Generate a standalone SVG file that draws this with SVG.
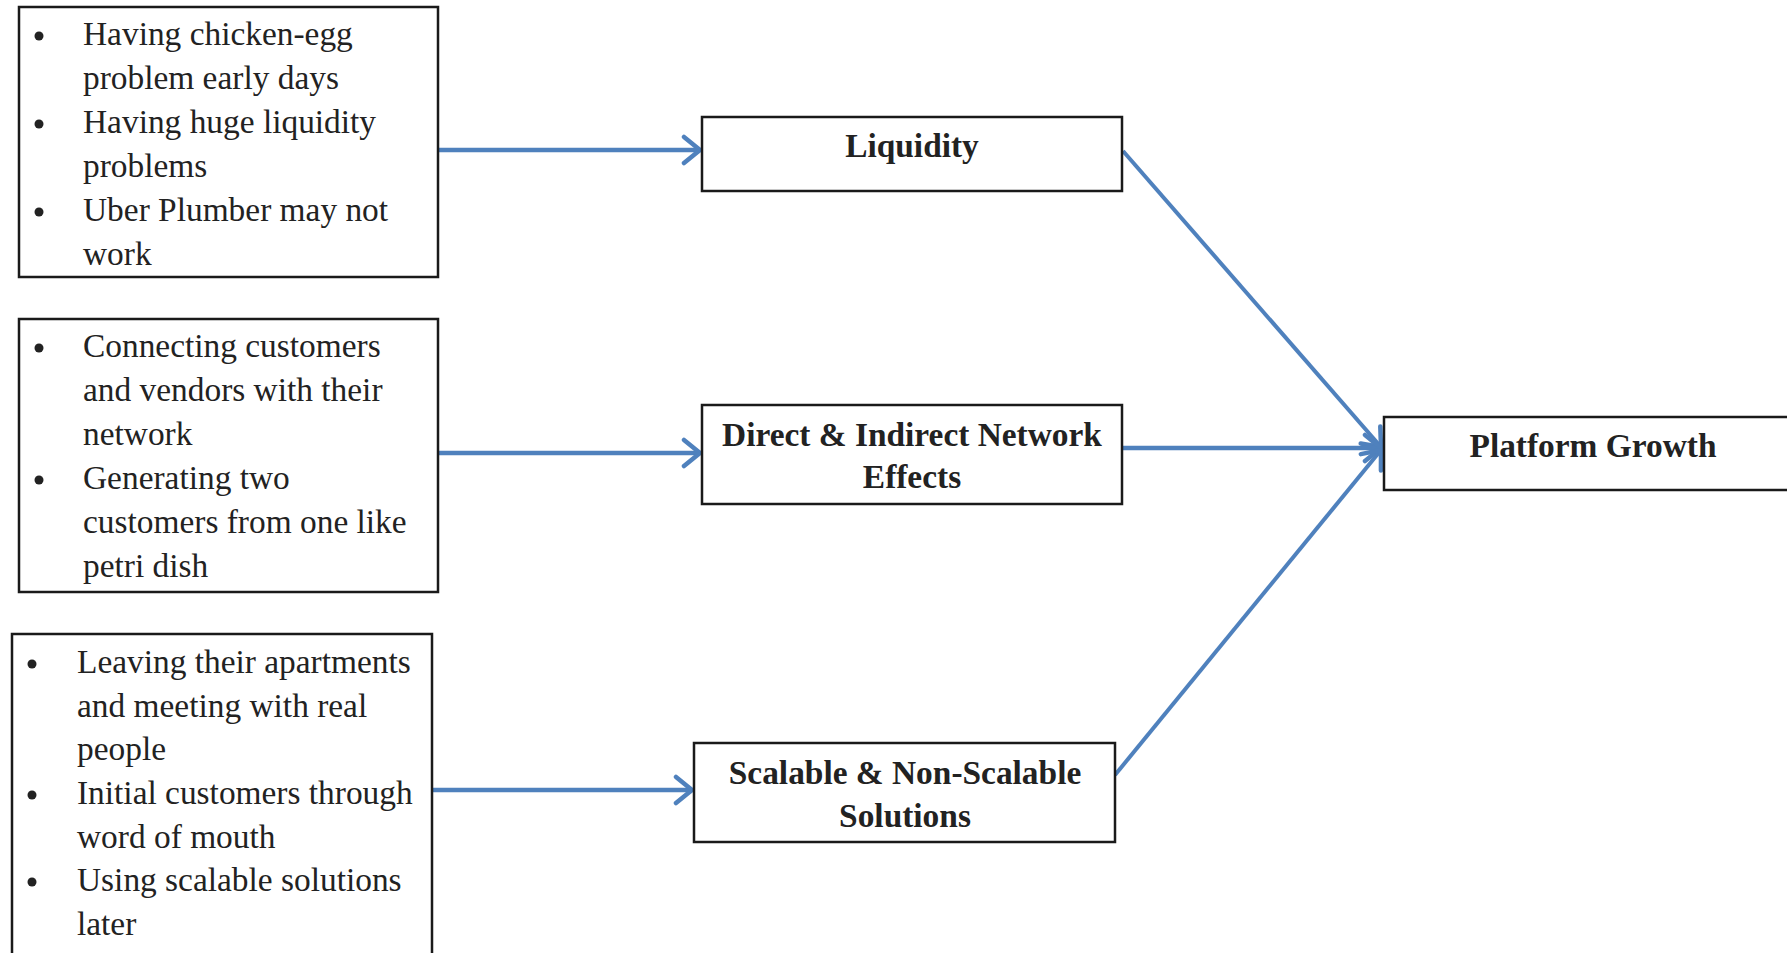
<svg xmlns="http://www.w3.org/2000/svg" width="1787" height="953" viewBox="0 0 1787 953">
  <style>
    .box { fill: #ffffff; stroke: #1a1a1a; stroke-width: 2.5; }
    .txt { font-family: "Liberation Serif", "Times New Roman", serif; font-size: 33.4px; fill: #222222; }
    .bold { font-family: "Liberation Serif", "Times New Roman", serif; font-size: 33.4px; font-weight: bold; fill: #222222; text-anchor: middle; }
    .bullet { fill: #222222; }
    .conn { stroke: #4F81BD; stroke-width: 4.5; fill: none; marker-end: url(#arrow); }
    .diag { stroke-width: 4; }
  </style>
  <defs>
    <marker id="arrow" markerUnits="userSpaceOnUse" viewBox="-22 -16 26 32" refX="0" refY="0" markerWidth="26" markerHeight="32" orient="auto">
      <path d="M -16,-13 L 0,0 L -16,13" fill="none" stroke="#4F81BD" stroke-width="4.5" stroke-linecap="round" stroke-linejoin="round"/>
    </marker>
  </defs>
  <rect width="1787" height="953" fill="#ffffff"/>

  <g id="connectors">
    <line class="conn" x1="439" y1="150" x2="700" y2="150"/>
    <line class="conn" x1="439" y1="453" x2="700" y2="453"/>
    <line class="conn" x1="432" y1="790" x2="692" y2="790"/>
    <line class="conn diag" x1="1123" y1="151" x2="1381" y2="447"/>
    <line class="conn" x1="1123" y1="448" x2="1381" y2="448"/>
    <line class="conn diag" x1="1115" y1="775" x2="1381" y2="450"/>
  </g>

  <g id="box-liquidity-causes">
    <rect class="box" x="19" y="7" width="419" height="270"/>
    <circle class="bullet" cx="39" cy="36" r="4.5"/>
    <circle class="bullet" cx="39" cy="124" r="4.5"/>
    <circle class="bullet" cx="39" cy="212" r="4.5"/>
    <text class="txt" x="83" y="45">Having chicken-egg</text>
    <text class="txt" x="83" y="89">problem early days</text>
    <text class="txt" x="83" y="133">Having huge liquidity</text>
    <text class="txt" x="83" y="177">problems</text>
    <text class="txt" x="83" y="221">Uber Plumber may not</text>
    <text class="txt" x="83" y="265">work</text>
  </g>

  <g id="box-network-causes">
    <rect class="box" x="19" y="319" width="419" height="273"/>
    <circle class="bullet" cx="39" cy="348" r="4.5"/>
    <circle class="bullet" cx="39" cy="480" r="4.5"/>
    <text class="txt" x="83" y="357">Connecting customers</text>
    <text class="txt" x="83" y="401">and vendors with their</text>
    <text class="txt" x="83" y="445">network</text>
    <text class="txt" x="83" y="489">Generating two</text>
    <text class="txt" x="83" y="533">customers from one like</text>
    <text class="txt" x="83" y="577">petri dish</text>
  </g>

  <g id="box-scalable-causes">
    <rect class="box" x="12" y="634" width="420" height="340"/>
    <circle class="bullet" cx="32" cy="664" r="4.5"/>
    <circle class="bullet" cx="32" cy="795" r="4.5"/>
    <circle class="bullet" cx="32" cy="882" r="4.5"/>
    <text class="txt" x="77" y="673">Leaving their apartments</text>
    <text class="txt" x="77" y="717">and meeting with real</text>
    <text class="txt" x="77" y="760">people</text>
    <text class="txt" x="77" y="804">Initial customers through</text>
    <text class="txt" x="77" y="848">word of mouth</text>
    <text class="txt" x="77" y="891">Using scalable solutions</text>
    <text class="txt" x="77" y="935">later</text>
  </g>

  <g id="node-liquidity">
    <rect class="box" x="702" y="117" width="420" height="74"/>
    <text class="bold" x="912" y="157">Liquidity</text>
  </g>

  <g id="node-network">
    <rect class="box" x="702" y="405" width="420" height="99"/>
    <text class="bold" x="912" y="446">Direct &amp; Indirect Network</text>
    <text class="bold" x="912" y="488">Effects</text>
  </g>

  <g id="node-scalable">
    <rect class="box" x="694" y="743" width="421" height="99"/>
    <text class="bold" x="905" y="784">Scalable &amp; Non-Scalable</text>
    <text class="bold" x="905" y="827">Solutions</text>
  </g>

  <g id="node-platform">
    <rect class="box" x="1384" y="417" width="420" height="73"/>
    <text class="bold" x="1593" y="457">Platform Growth</text>
  </g>
</svg>
